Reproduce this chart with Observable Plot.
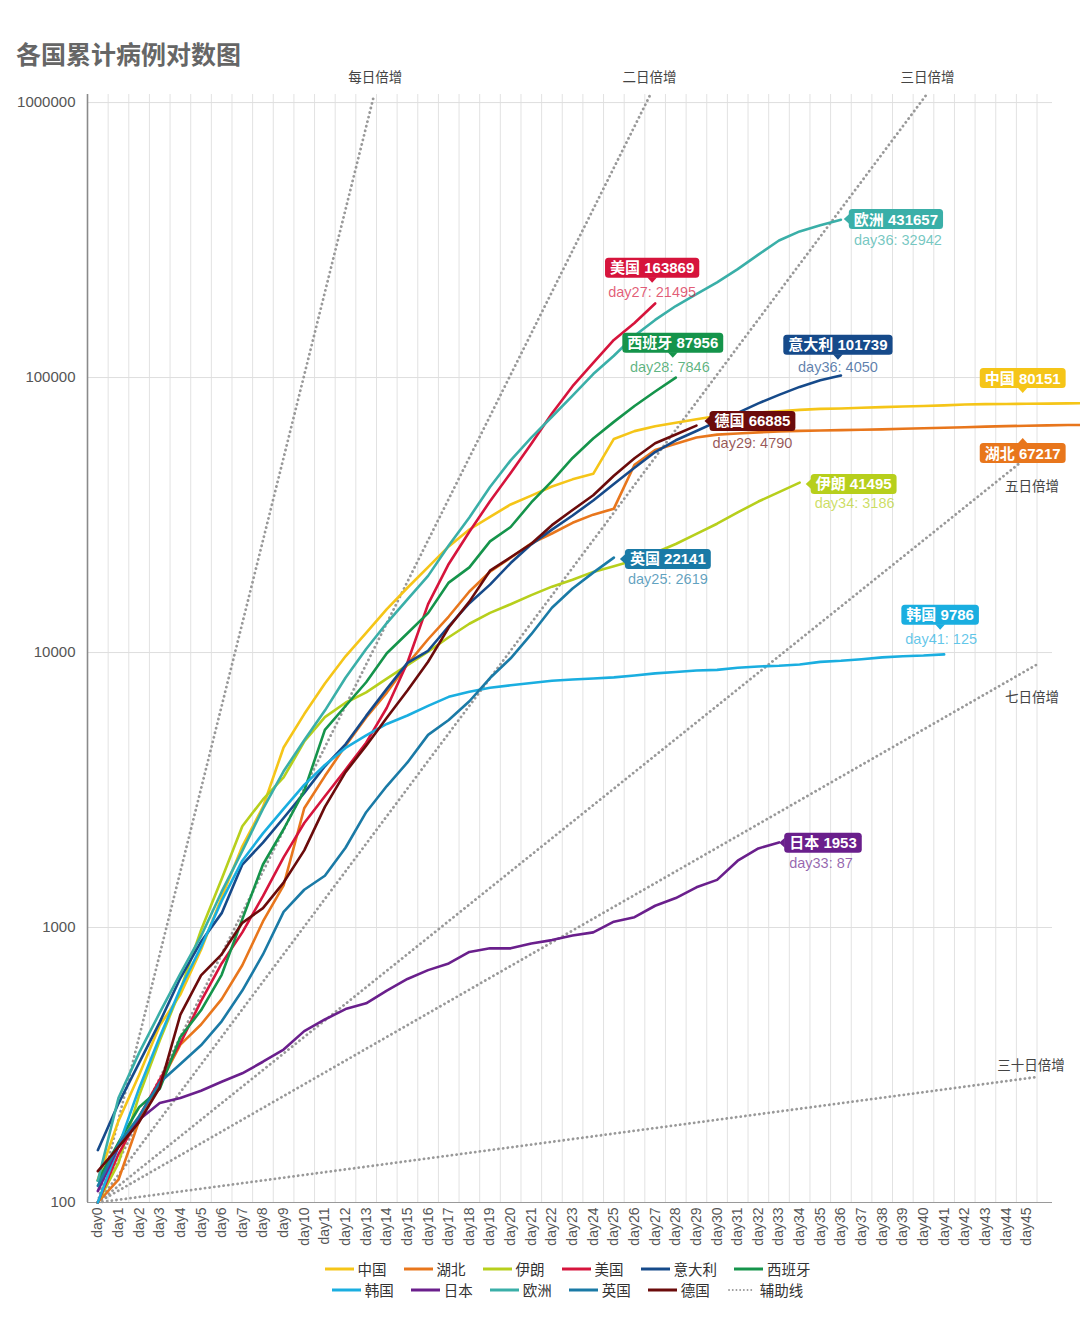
<!DOCTYPE html>
<html>
<head>
<meta charset="utf-8">
<script src="https://cdn.jsdelivr.net/npm/d3@7"></script>
<script src="https://cdn.jsdelivr.net/npm/@observablehq/plot@0.6"></script>
<style>
  body { margin: 0; background: #fff; font-family: "Liberation Sans", "Noto Sans CJK SC", sans-serif; }
  #title { height: 70px; position: relative; }
  #title div { position: absolute; left: 16px; top: 37px; font: bold 25px/32px "Noto Sans CJK SC", sans-serif; color: #666; }
  #chart { height: 1178px; }
  #legend { width: 1080px; padding-top: 10px; }
  .row { display: flex; justify-content: center; padding-left: 72px; height: 21px; align-items: center; }
  .item { display: flex; align-items: center; margin-right: 17px; font-size: 14.5px; color: #333; font-family: "Noto Sans CJK SC", sans-serif; }
  .item svg { margin-right: 4px; }
</style>
</head>
<body>
<div id="title"><div>各国累计病例对数图</div></div>
<div id="chart"></div>
<div id="legend"></div>
<script>
// ---------- data ----------
const dayLabels = ["day0","day1","day2","day3","day4","day5","day6","day7","day8","day9","day10","day11","day12","day13","day14","day15","day16","day17","day18","day19","day20","day21","day22","day23","day24","day25","day26","day27","day28","day29","day30","day31","day32","day33","day34","day35","day36","day37","day38","day39","day40","day41","day42","day43","day44","day45"];
const yTicks = [100, 1000, 10000, 100000, 1000000];

const seriesNames  = ["中国", "湖北", "伊朗", "美国", "意大利", "西班牙", "韩国", "日本", "欧洲", "英国", "德国"];
const seriesColors = ["#f5c518", "#e8761c", "#b7cf1c", "#d6143c", "#164a8a", "#15944b", "#1aaee0", "#6a1f8c", "#3aafa8", "#1a7aa6", "#6b0b0b"];

const chinaCases = [121,198,291,440,571,830,1287,1975,2744,4515,5974,7711,9692,11791,14380,17205,20438,24324,28018,31161,34546,37198,40171,42638,44653,59804,63851,66492,68500,70548,72436,74185,74576,75465,76288,76936,77150,77658,78064,78497,78824,79251,79824,80026,80151,80270,80409,80552,80651];
const hubeiCases = [100,121,198,270,375,444,549,729,1052,1423,2714,3554,4586,5806,7153,9074,11177,13522,16678,19665,22112,24953,27100,29631,31728,33366,48206,54500,57500,60500,62000,62600,63200,63700,64000,64200,64400,64600,64800,65100,65400,65700,66000,66300,66600,66800,67000,67200,67300];
const iranCases  = [100,139,245,388,593,978,1501,2336,2922,3513,4747,5823,6566,7161,8042,9000,10075,11364,12729,13938,14991,16169,17361,18407,19644,20610,21638,23049,24811,27017,29406,32332,35408,38309,41495];
const usCases    = [100,150,205,280,380,540,740,960,1300,1800,2400,3000,3750,4700,6300,9200,15000,21000,27500,35500,45000,57500,74000,93000,113000,137000,158000,186000];
const italyCases = [155,229,322,453,655,888,1128,1694,2036,2502,3089,3858,4636,5883,7375,9172,10149,12462,15113,17660,21157,24747,27980,31506,35713,41035,47021,53578,59138,63927,69176,74386,80589,86498,92472,97689,101739];
const spainCases = [120,165,222,259,400,500,673,1073,1695,2277,3146,5232,6391,7798,9942,11748,13910,17963,20410,25374,28603,35136,42000,51000,60000,69000,78800,89000,100000];
const koreaCases = [100,160,260,400,600,850,1250,1750,2200,2700,3300,3900,4500,5000,5500,5900,6400,6900,7200,7450,7600,7750,7900,7980,8050,8120,8250,8400,8500,8600,8650,8800,8900,8950,9050,9250,9330,9450,9600,9700,9750,9850];
const japanCases = [110,160,200,230,240,255,275,295,325,360,420,463,505,530,590,650,700,740,815,840,840,875,900,935,960,1050,1090,1200,1280,1400,1490,1750,1940,2040];
const europeCases = [120,240,350,490,680,930,1350,1900,2700,3700,4800,6150,8100,10300,12800,15600,19000,24500,31000,40000,50000,60500,72000,86000,103000,120000,142000,162000,182000,201000,222000,248000,280000,315000,340000,358000,375000];
const ukCases    = [115,163,206,273,319,373,456,590,798,1140,1372,1543,1950,2626,3269,3983,5018,5683,6650,8077,9529,11658,14543,17089,19522,22141];
const germanyCases = [130,159,196,262,482,670,799,1040,1176,1457,1908,2745,3675,4585,5795,7272,9257,12327,15320,19848,22213,24873,29056,32986,37323,43938,50871,57695,62095,66885];

const seriesValues = [chinaCases, hubeiCases, iranCases, usCases, italyCases, spainCases, koreaCases, japanCases, europeCases, ukCases, germanyCases];

// doubling guide lines (start at day0 / 100 cases)
const guideNames    = ["每日倍增", "二日倍增", "三日倍增", "五日倍增", "七日倍增", "三十日倍增"];
const guideEndDay   = [13.39, 26.77, 40.15, 45.5, 45.5, 45.5];
const guideEndValue = [1070000, 1070000, 1070000, 54870, 9051, 286];

// annotation badges
const labelSeries = ["美国", "欧洲", "西班牙", "意大利", "中国", "湖北", "德国", "伊朗", "英国", "韩国", "日本"];
const labelTotals = [163869, 431657, 87956, 101739, 80151, 67217, 66885, 41495, 22141, 9786, 1953];
const labelDays   = [27, 36, 28, 36, null, null, 29, 34, 25, 41, 33];
const labelNew    = [21495, 32942, 7846, 4050, null, null, 4790, 3186, 2619, 125, 87];
const labelAnchorDay = [27, 36, 28, 36, 45, 45, 29, 34, 25, 41, 33];

// ---------- layout / style ----------
const FONT = "'Liberation Sans', 'Noto Sans CJK SC', sans-serif";
const badgeLayout = {
  "美国":   {dx: -3, dy: -35, sdx: -3, sdy: -11, ptr: "down"},
  "欧洲":   {dx: 55, dy: 0,   sdx: 57, sdy: 21,  ptr: "left"},
  "西班牙": {dx: -3, dy: -34, sdx: -6, sdy: -10, ptr: "down"},
  "意大利": {dx: -3, dy: -30, sdx: -3, sdy: -8,  ptr: "down"},
  "中国":   {dx: -4, dy: -25, ptr: "down"},
  "湖北":   {dx: -4, dy: 28,  ptr: "up"},
  "德国":   {dx: 56, dy: -4,  sdx: 56, sdy: 18,  ptr: "left"},
  "伊朗":   {dx: 54, dy: 2,   sdx: 55, sdy: 21,  ptr: "left"},
  "英国":   {dx: 54, dy: 2,   sdx: 54, sdy: 22,  ptr: "left"},
  "韩国":   {dx: -4, dy: -39, sdx: -3, sdy: -15, ptr: "down"},
  "日本":   {dx: 44, dy: 1,   sdx: 42, sdy: 21,  ptr: "left"}
};
const guideLayout = [
  {dx: 1, dy: -17}, {dx: -1, dy: -17}, {dx: 1, dy: -17},
  {dx: -5, dy: 37}, {dx: -5, dy: 33}, {dx: -6, dy: -11}
];

const colorOf = Object.fromEntries(seriesNames.map((n, i) => [n, seriesColors[i]]));
const valuesOf = Object.fromEntries(seriesNames.map((n, i) => [n, seriesValues[i]]));
const tickDays = dayLabels.map((_, i) => i);
const gridDays = dayLabels.map((_, i) => i + 0.5);

const marks = [];
// grid
marks.push(Plot.ruleX(gridDays, {y1: 100, y2: 1070000, stroke: "#e2e2e2", strokeWidth: 1}));
marks.push(Plot.ruleY(yTicks.slice(1), {x1: -0.5, x2: 46.25, stroke: "#dedede", strokeWidth: 1}));
marks.push(Plot.ruleY([100], {x1: -0.5, x2: 46.25, stroke: "#9a9a9a", strokeWidth: 1.2}));
marks.push(Plot.ruleX([-0.5], {y1: 100, y2: 1070000, stroke: "#8a8a8a", strokeWidth: 1.6}));

// axes
marks.push(Plot.axisY(yTicks, {anchor: "left", tickSize: 0, tickPadding: 12, tickFormat: d => String(d), fontSize: 15, color: "#555", label: null}));
marks.push(Plot.axisX(tickDays, {anchor: "bottom", tickSize: 0, tickPadding: 5, tickRotate: -90, tickFormat: d => dayLabels[d], fontSize: 14, color: "#555", label: null}));

// guide lines
guideNames.forEach((g, i) => {
  const pts = [{day: 0, v: 100}, {day: guideEndDay[i], v: guideEndValue[i]}];
  marks.push(Plot.line(pts, {x: "day", y: "v", stroke: "#999", strokeWidth: 2.8, strokeDasharray: "0.1,4.6", strokeLinecap: "round"}));
  marks.push(Plot.text([pts[1]], {x: "day", y: "v", text: () => g, dx: guideLayout[i].dx, dy: guideLayout[i].dy, fontSize: 13.5, fill: "#444", fontFamily: "'Noto Sans CJK SC', sans-serif"}));
});

// series lines
seriesNames.forEach((n, s) => {
  marks.push(Plot.line(seriesValues[s], {x: (d, i) => i, y: d => d, stroke: seriesColors[s], strokeWidth: 2.6, strokeLinejoin: "round"}));
});

// badges + sub labels
const badgeText = k => `${labelSeries[k]} ${labelTotals[k]}`;
labelSeries.forEach((n, k) => {
  const day = labelAnchorDay[k];
  const anchor = [{day, v: valuesOf[n][day]}];
  const L = badgeLayout[n];
  marks.push(Plot.text(anchor, {x: "day", y: "v", text: () => badgeText(k), dx: L.dx, dy: L.dy, fill: "white", fontWeight: "bold", fontSize: 15, fontFamily: FONT}));
  if (labelDays[k] != null) {
    marks.push(Plot.text(anchor, {x: "day", y: "v", text: () => `day${labelDays[k]}: ${labelNew[k]}`, dx: L.sdx, dy: L.sdy, fill: colorOf[n], fillOpacity: 0.7, fontSize: 14.5, fontFamily: FONT}));
  }
});

const plot = Plot.plot({
  width: 1080, height: 1178,
  marginLeft: 87, marginRight: 28, marginTop: 24, marginBottom: 46,
  x: {type: "linear", domain: [-0.5, 46.25], axis: null},
  y: {type: "log", domain: [100, 1070000], axis: null},
  style: {fontFamily: FONT, background: "#fff", overflow: "visible"},
  marks
});
document.getElementById("chart").appendChild(plot);

// draw badge boxes behind the badge texts
const NS = "http://www.w3.org/2000/svg";
const allTexts = Array.from(plot.querySelectorAll("text"));
labelSeries.forEach((n, k) => {
  const t = allTexts.find(e => e.textContent === badgeText(k));
  if (!t) return;
  const bb = t.getBBox();
  const cy = bb.y + bb.height / 2;
  const x0 = bb.x - 5, x1 = bb.x + bb.width + 5, y0 = cy - 10, y1 = cy + 10;
  const cx = (x0 + x1) / 2;
  const rect = document.createElementNS(NS, "rect");
  rect.setAttribute("x", x0); rect.setAttribute("y", y0);
  rect.setAttribute("width", x1 - x0); rect.setAttribute("height", y1 - y0);
  rect.setAttribute("rx", 3.5); rect.setAttribute("fill", colorOf[n]);
  const tri = document.createElementNS(NS, "path");
  const p = badgeLayout[n].ptr;
  let d;
  if (p === "down") d = `M${cx - 5},${y1 - 0.5}L${cx + 5},${y1 - 0.5}L${cx},${y1 + 5}Z`;
  else if (p === "up") d = `M${cx - 5},${y0 + 0.5}L${cx + 5},${y0 + 0.5}L${cx},${y0 - 5}Z`;
  else d = `M${x0 + 0.5},${cy - 5}L${x0 + 0.5},${cy + 5}L${x0 - 5},${cy}Z`;
  tri.setAttribute("d", d); tri.setAttribute("fill", colorOf[n]);
  const tf = t.getAttribute("transform");
  if (tf) { rect.setAttribute("transform", tf); tri.setAttribute("transform", tf); }
  t.parentNode.insertBefore(rect, t);
  t.parentNode.insertBefore(tri, t);
});

// legend
const legendRows = [seriesNames.slice(0, 6), seriesNames.slice(6).concat(["辅助线"])];
const legend = document.getElementById("legend");
legendRows.forEach(row => {
  const r = document.createElement("div");
  r.className = "row";
  row.forEach(n => {
    const it = document.createElement("div");
    it.className = "item";
    const dotted = n === "辅助线";
    it.innerHTML = `<svg width="29" height="10"><line x1="${dotted ? 2 : 0}" x2="${dotted ? 27 : 29}" y1="5" y2="5" stroke="${dotted ? "#999" : colorOf[n]}" stroke-width="${dotted ? 1.8 : 3}" ${dotted ? 'stroke-dasharray="0.1,3.6" stroke-linecap="round"' : ""}/></svg><span>${n}</span>`;
    r.appendChild(it);
  });
  legend.appendChild(r);
});
</script>
</body>
</html>
